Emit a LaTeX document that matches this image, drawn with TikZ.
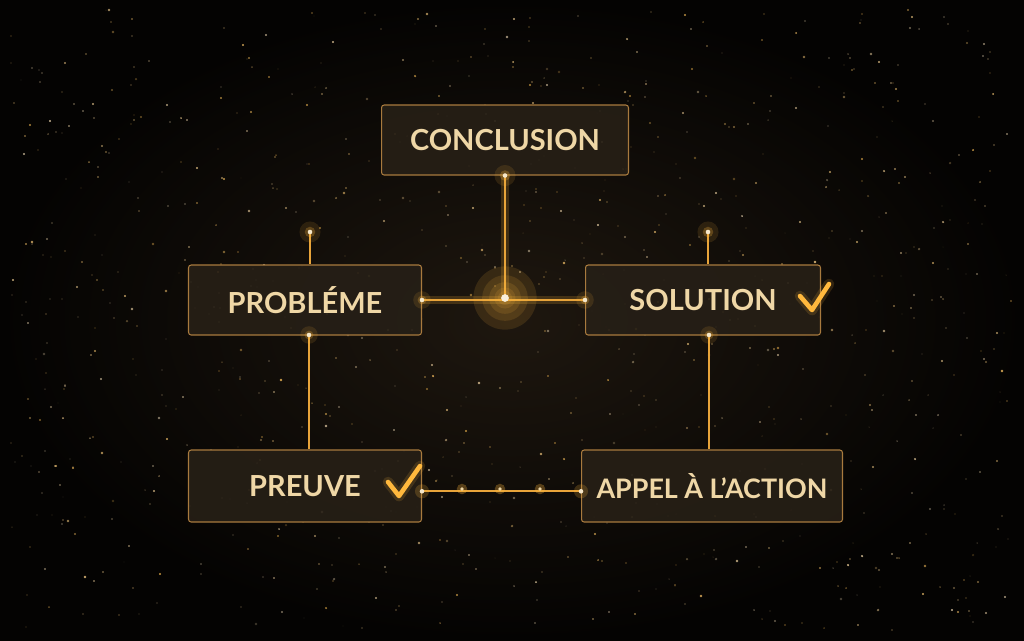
\documentclass[tikz,border=0pt]{standalone}
\usepackage{fontspec}
\setmainfont{Lato}
\usetikzlibrary{positioning,calc}

\definecolor{bgdark}{HTML}{040302}
\definecolor{bgmid}{HTML}{1E170F}
\definecolor{boxfill}{HTML}{261F16}
\definecolor{boxedge}{HTML}{A87A3E}
\definecolor{goldtext}{HTML}{EFD7A6}
\definecolor{goldline}{HTML}{E8A43A}
\definecolor{goldglow}{HTML}{FFB83D}

\tikzset{
  stepnode/.style={draw=boxedge, line width=0.6pt, fill=boxfill, fill opacity=0.92,
    text opacity=1, rounded corners=1.5pt, minimum height=1.4cm,
    text=goldtext, font=\fontsize{16.5}{19}\selectfont\bfseries},
  wire/.style={draw=goldline, line width=1.1pt},
  wireglow/.style={draw=goldglow, line width=4pt, opacity=0.18},
  tick/.style={draw=goldglow, line width=2.6pt, line cap=round, line join=round},
}

\begin{document}
\begin{tikzpicture}[x=0.02cm, y=-0.02cm]
  % background
  \shade[inner color=bgmid, outer color=bgdark] (0,0) rectangle (1024,640);
  \useasboundingbox (0,0) rectangle (1024,640);
  % stars
  \pgfmathsetseed{42}
  \foreach \i in {1,...,900} {
    \pgfmathsetmacro\sx{random(10,1014)}
    \pgfmathsetmacro\sy{random(10,630)}
    \pgfmathsetmacro\so{0.2+0.6*rnd}
    \pgfmathsetmacro\sr{0.25+0.5*rnd}
    \pgfmathsetmacro\sc{int(30+60*rnd)}
    \fill[goldglow!\sc!white, opacity=\so] (\sx,\sy) circle (\sr pt);
  }

  \coordinate (hub) at (505,298);
  \coordinate (ptop) at (310,232);
  \coordinate (stop) at (708,232);
  \coordinate (pbot) at (309,335);
  \coordinate (sbot) at (709,335);

  % boxes
  \node[stepnode, minimum width=4.94cm] (concl) at (505,140) {CONCLUSION};
  \node[stepnode, minimum width=4.66cm] (probl) at (305,300) {PROBLÉME};
  \node[stepnode, minimum width=4.7cm] (sol) at (703,300) {SOLUTION\hspace{1.25cm}};
  \node[stepnode, minimum width=4.66cm, minimum height=1.44cm] (preuve) at (305,486) {PREUVE\hspace{1.0cm}};
  \node[stepnode, minimum width=5.22cm, minimum height=1.44cm,
        font=\fontsize{15.3}{18}\selectfont\bfseries] (appel) at (712,486) {APPEL À L’ACTION};

  % connectors
  \draw[wireglow] (concl.south) -- (hub);
  \draw[wireglow] (probl.east) -- (sol.west);
  \draw[wire] (concl.south) -- (hub);
  \draw[wire] (probl.east) -- (sol.west);
  \draw[wire] (ptop) -- (ptop |- probl.north);
  \draw[wire] (stop) -- (stop |- sol.north);
  \draw[wire, line width=0.8pt] (pbot) -- (pbot |- preuve.north);
  \draw[wire, line width=0.8pt] (sbot) -- (sbot |- appel.north);
  \draw[wire, line width=1pt] ([yshift=-3pt]preuve.east) -- ([yshift=-3pt]appel.west);

  % glowing dots
  \foreach \r in {18,13,9,6,4} {
    \fill[goldglow, opacity=0.13] (hub) circle (\r pt);
  }
  \fill[goldtext!40!white] (hub) circle (2.2pt);
  \foreach \p/\r in {concl.south/6, probl.east/5, sol.west/5, ptop/6, stop/6,
                     pbot/5, sbot/5} {
    \fill[goldglow, opacity=0.12] (\p) circle (\r pt);
    \fill[goldglow, opacity=0.25] (\p) circle (0.5*\r pt);
    \fill[goldtext!60!white] (\p) circle (1.3pt);
  }
  \foreach \p in {preuve.east, appel.west} {
    \fill[goldglow, opacity=0.2] ([yshift=-3pt]\p) circle (4pt);
    \fill[goldtext!60!white] ([yshift=-3pt]\p) circle (1.3pt);
  }
  \foreach \x in {462,500,540} {
    \fill[goldglow, opacity=0.3] (\x,489) circle (3pt);
    \fill[goldtext] (\x,489) circle (1.1pt);
  }

  % check marks
  \draw[goldglow, line width=6pt, opacity=0.15, line cap=round, line join=round]
    (800,296) -- (812,310) -- (829,284);
  \draw[tick] (800,296) -- (812,310) -- (829,284);
  \draw[goldglow, line width=6pt, opacity=0.15, line cap=round, line join=round]
    (388,482) -- (399,496) -- (420,466);
  \draw[tick] (388,482) -- (399,496) -- (420,466);
\end{tikzpicture}
\end{document}
